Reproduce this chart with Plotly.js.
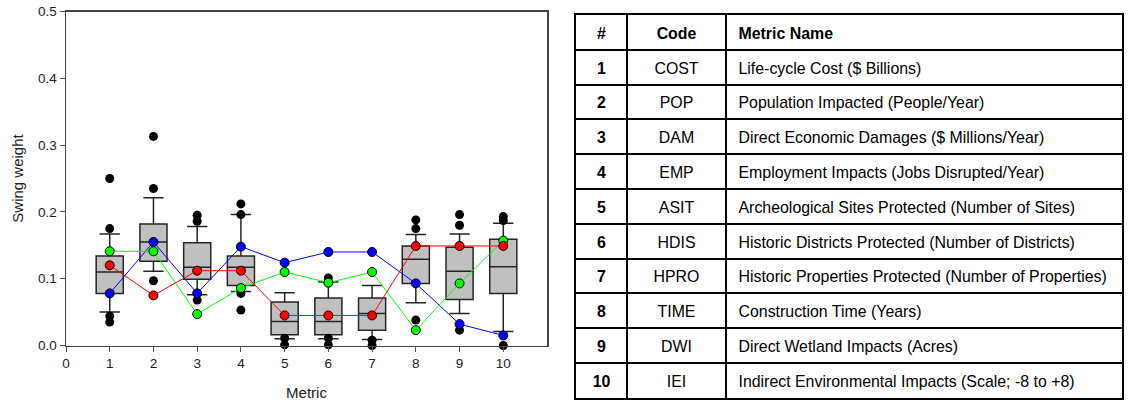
<!DOCTYPE html>
<html>
<head>
<meta charset="utf-8">
<script src="https://cdn.plot.ly/plotly-3.0.1.min.js"></script>
<style>
html,body{margin:0;padding:0;background:#fff;}
#chart{width:1130px;height:402px;}
</style>
</head>
<body>
<div id="chart"></div>
<script>
// ---- Data ----
const metrics = [1, 2, 3, 4, 5, 6, 7, 8, 9, 10];
const q1 =      [0.078, 0.126, 0.099, 0.090, 0.016, 0.016, 0.023, 0.093, 0.069, 0.078];
const medians = [0.110, 0.155, 0.117, 0.117, 0.036, 0.036, 0.048, 0.129, 0.111, 0.118];
const q3 =      [0.134, 0.182, 0.154, 0.134, 0.065, 0.071, 0.071, 0.149, 0.147, 0.159];
const lowerWhisker = [0.050, 0.111, 0.076, 0.081, 0.010, 0.010, 0.009, 0.064, 0.048, 0.021];
const upperWhisker = [0.167, 0.221, 0.178, 0.196, 0.079, 0.095, 0.090, 0.166, 0.167, 0.183];
const outliers = [
  [0.250, 0.175, 0.044, 0.035],
  [0.313, 0.235, 0.097],
  [0.195, 0.186, 0.068],
  [0.212, 0.196, 0.078, 0.053],
  [0.011, 0.001],
  [0.101, 0.011, 0.001],
  [0.008, 0.000],
  [0.188, 0.175, 0.038],
  [0.196, 0.180, 0.023],
  [0.193, 0.187, 0.000]
];
const redSeries =   [0.120, 0.075, 0.112, 0.112, 0.045, 0.045, 0.045, 0.149, 0.149, 0.149];
const greenSeries = [0.141, 0.141, 0.047, 0.086, 0.110, 0.094, 0.110, 0.023, 0.093, 0.157];
const blueSeries =  [0.078, 0.155, 0.078, 0.148, 0.124, 0.140, 0.140, 0.093, 0.032, 0.015];

const xTicks = [0, 1, 2, 3, 4, 5, 6, 7, 8, 9, 10];
const yTicks = [0, 0.1, 0.2, 0.3, 0.4, 0.5];

const tableNums = ["1", "2", "3", "4", "5", "6", "7", "8", "9", "10"];
const tableCodes = ["COST", "POP", "DAM", "EMP", "ASIT", "HDIS", "HPRO", "TIME", "DWI", "IEI"];
const tableNames = [
  "Life-cycle Cost ($ Billions)",
  "Population Impacted (People/Year)",
  "Direct Economic Damages ($ Millions/Year)",
  "Employment Impacts (Jobs Disrupted/Year)",
  "Archeological Sites Protected (Number of Sites)",
  "Historic Districts Protected (Number of Districts)",
  "Historic Properties Protected (Number of Properties)",
  "Construction Time (Years)",
  "Direct Wetland Impacts (Acres)",
  "Indirect Environmental Impacts (Scale; -8 to +8)"
];
const tableHeaders = ["#", "Code", "Metric Name"];

// ---- Layout helpers ----
const FONT = "Liberation Sans, Arial, sans-serif";
const W = 1130, H = 402;
const colWidths = [51, 99, 396];             // table column widths (px)
const colEdges = [0, colWidths[0], colWidths[0] + colWidths[1], colWidths[0] + colWidths[1] + colWidths[2]];
const nRows = tableNums.length + 1;          // header + data rows
const TFS = 15.9;                            // table font size

// ---- Chart traces ----
const boxTrace = {
  type: "box",
  x: metrics,
  q1: q1,
  median: medians,
  q3: q3,
  lowerfence: lowerWhisker,
  upperfence: upperWhisker,
  width: 0.62,
  whiskerwidth: 0.75,
  fillcolor: "#c0c0c0",
  line: {color: "#252525", width: 1.5},
  boxpoints: false,
  showlegend: false,
  hoverinfo: "skip"
};

const outX = [], outY = [];
outliers.forEach((arr, i) => arr.forEach(v => { outX.push(metrics[i]); outY.push(v); }));
const outlierTrace = {
  type: "scatter", mode: "markers", x: outX, y: outY,
  marker: {color: "#000", size: 9},
  cliponaxis: false, showlegend: false, hoverinfo: "skip"
};

function seriesTrace(vals, color) {
  return {
    type: "scatter", mode: "lines+markers", x: metrics, y: vals,
    line: {color: color, width: 1},
    marker: {color: color, size: 9, line: {color: "#000", width: 1}},
    cliponaxis: false, showlegend: false, hoverinfo: "skip"
  };
}

// ---- Table (drawn on its own axes: grid lines are the cell borders) ----
const rowCenters = [];
for (let i = 0; i < nRows; i++) rowCenters.push(i + 0.57);

function textCol(texts, xPos, pos) {
  return {
    type: "scatter", mode: "text", xaxis: "x2", yaxis: "y2",
    x: texts.map(() => xPos), y: rowCenters.slice(0, texts.length),
    text: texts, textposition: pos,
    textfont: {family: FONT, size: TFS, color: "#000"},
    cliponaxis: false, showlegend: false, hoverinfo: "skip"
  };
}
const col1 = ["<b>" + tableHeaders[0] + "</b>"].concat(tableNums.map(n => "<b>" + n + "</b>"));
const col2 = ["<b>" + tableHeaders[1] + "</b>"].concat(tableCodes);
const col3 = ["<b>" + tableHeaders[2] + "</b>"].concat(tableNames);

const data = [boxTrace, outlierTrace,
  seriesTrace(blueSeries, "#0000ff"),
  seriesTrace(greenSeries, "#00ff00"),
  seriesTrace(redSeries, "#ff0000"),
  textCol(col1, (colEdges[0] + colEdges[1]) / 2, "middle center"),
  textCol(col2, (colEdges[1] + colEdges[2]) / 2, "middle center"),
  textCol(col3, colEdges[2] + 12.5, "middle right")
];

const rowLines = [];
for (let i = 1; i < nRows; i++) rowLines.push(i);

const layout = {
  width: W, height: H,
  margin: {l: 0, r: 0, t: 0, b: 0},
  paper_bgcolor: "#fff", plot_bgcolor: "#fff",
  showlegend: false,
  font: {family: FONT, size: 13, color: "#222"},
  xaxis: {
    domain: [66 / W, 547 / W],
    range: [0, 11],
    tickvals: xTicks,
    ticktext: xTicks.map(String),
    ticks: "outside", ticklen: 5, tickcolor: "#555",
    showline: true, linecolor: "#444", linewidth: 1.5, mirror: true,
    showgrid: false, zeroline: false,
    tickfont: {family: FONT, size: 13.5, color: "#222"},
    title: {text: "Metric", font: {family: FONT, size: 15, color: "#222"}, standoff: 17}
  },
  yaxis: {
    domain: [1 - 345.5 / H, 1 - 11.5 / H],
    range: [0, 0.5],
    tickvals: yTicks,
    tickformat: ".1f",
    ticks: "outside", ticklen: 5, tickcolor: "#555",
    showline: true, linecolor: "#444", linewidth: 1.5, mirror: true,
    showgrid: false, zeroline: false,
    tickfont: {family: FONT, size: 13.5, color: "#222"},
    title: {text: "Swing weight", font: {family: FONT, size: 15, color: "#222"}, standoff: 11}
  },
  xaxis2: {
    domain: [576 / W, (576 + colEdges[3]) / W],
    anchor: "y2",
    range: [0, colEdges[3]],
    tickvals: colEdges.slice(1, 3),
    showticklabels: false, ticks: "",
    showgrid: true, gridcolor: "#000", gridwidth: 2,
    showline: true, linecolor: "#000", linewidth: 2, mirror: true,
    zeroline: false, fixedrange: true
  },
  yaxis2: {
    domain: [1 - 397.8 / H, 1 - 15 / H],
    anchor: "x2",
    range: [nRows, 0],
    tickvals: rowLines,
    showticklabels: false, ticks: "",
    showgrid: true, gridcolor: "#000", gridwidth: 2,
    showline: true, linecolor: "#000", linewidth: 2, mirror: true,
    zeroline: false, fixedrange: true
  }
};

Plotly.newPlot("chart", data, layout, {staticPlot: true, displayModeBar: false});
</script>
</body>
</html>
